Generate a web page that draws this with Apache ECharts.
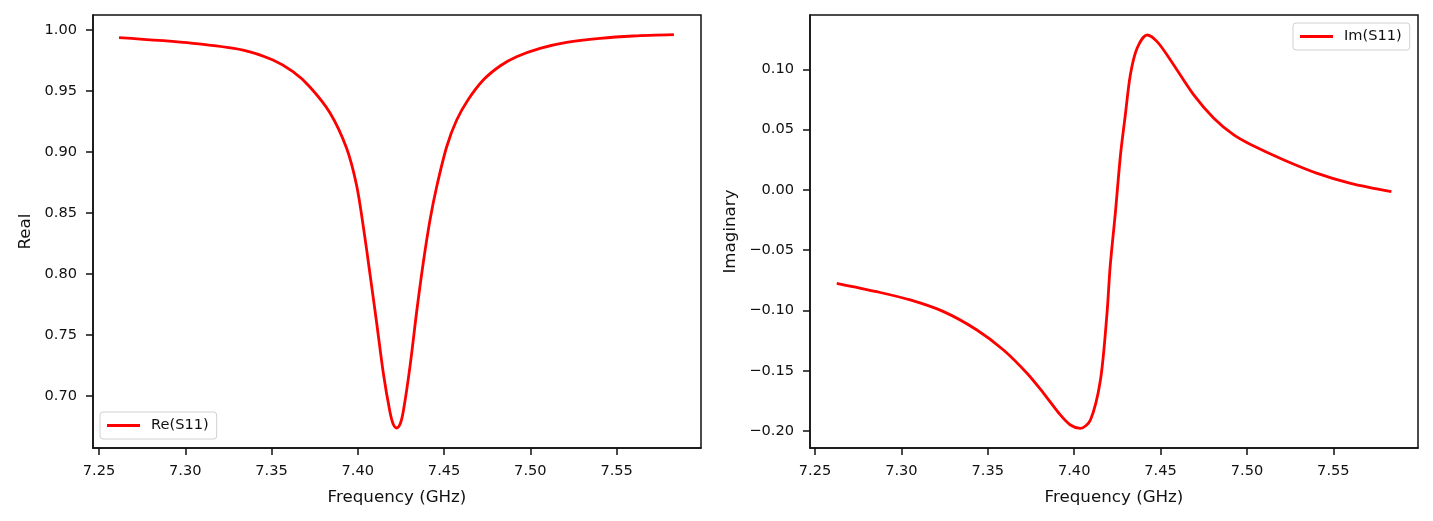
<!DOCTYPE html>
<html>
<head>
<meta charset="utf-8">
<title>S11 real / imaginary</title>
<script src="https://cdn.jsdelivr.net/npm/echarts@6/dist/echarts.min.js"></script>
<style>
  html, body { margin: 0; padding: 0; background: #fff; }
  #main { width: 1433px; height: 521px; }
</style>
</head>
<body>
<div id="main"></div>
<script>
// values (frequency in GHz)
var reFreq = [7.2616, 7.3045, 7.3335, 7.3508, 7.3624, 7.3721, 7.3839, 7.3935, 7.3993, 7.4032,
  7.4070, 7.4109, 7.4148, 7.4186, 7.4206, 7.4225, 7.4244, 7.4263, 7.4302, 7.4341,
  7.4379, 7.4418, 7.4457, 7.4515, 7.4573, 7.4640, 7.4727, 7.4824, 7.4920, 7.5056,
  7.5210, 7.5403, 7.5596, 7.5832];
var reVals = [0.9937, 0.9891, 0.9836, 0.9754, 0.9658, 0.9535, 0.9320, 0.9030, 0.8725, 0.8386,
  0.8004, 0.7600, 0.7184, 0.6870, 0.6765, 0.6737, 0.6765, 0.6870, 0.7238, 0.7690,
  0.8090, 0.8441, 0.8715, 0.9043, 0.9262, 0.9430, 0.9590, 0.9705, 0.9781, 0.9850,
  0.9899, 0.9932, 0.9951, 0.9962];

var imFreq = [7.2626, 7.2858, 7.3051, 7.3244, 7.3437, 7.3591, 7.3727, 7.3823, 7.3920, 7.3978,
  7.4036, 7.4094, 7.4152, 7.4190, 7.4208, 7.4239, 7.4268, 7.4296, 7.4325, 7.4364,
  7.4422, 7.4480, 7.4557, 7.4692, 7.4808, 7.4924, 7.5021, 7.5214, 7.5407, 7.5600,
  7.5836];
var imVals = [-0.0775, -0.0845, -0.0913, -0.1010, -0.1162, -0.1328, -0.1521, -0.1687, -0.1867, -0.1950,
  -0.1978, -0.1909, -0.1577, -0.1024, -0.0640, -0.0180, 0.0289, 0.0621, 0.0953, 0.1174,
  0.1284, 0.1229, 0.1077, 0.0787, 0.0594, 0.0455, 0.0376, 0.0248, 0.0137, 0.0054,
  -0.0015];

// tick labels
var freqTicks = [7.25, 7.30, 7.35, 7.40, 7.45, 7.50, 7.55];
var reTicks = [0.70, 0.75, 0.80, 0.85, 0.90, 0.95, 1.00];
var imTicks = [-0.20, -0.15, -0.10, -0.05, 0.00, 0.05, 0.10];

var FONT = 'DejaVu Sans';
var INK = '#111';

function pairs(xs, ys) {
  return xs.map(function (x, i) { return [x, ys[i]]; });
}

// matplotlib style numbers, with a real minus sign
function fmt2(v) {
  var s = Math.abs(v).toFixed(2);
  return (v < -1e-9 ? '\u2212' : '') + s;
}

function xAxisFor(gridIndex, min, max) {
  return {
    type: 'value',
    gridIndex: gridIndex,
    position: 'bottom',
    min: min,
    max: max,
    name: 'Frequency (GHz)',
    nameLocation: 'middle',
    nameGap: 41,
    nameTextStyle: { fontFamily: FONT, fontSize: 16.7, color: INK },
    axisLine: { show: true, onZero: false, lineStyle: { color: INK, width: 1.5 } },
    axisTick: {
      show: true, inside: false, length: 7,
      lineStyle: { color: INK, width: 1.5 },
      customValues: freqTicks
    },
    axisLabel: {
      show: true, margin: 16,
      fontFamily: FONT, fontSize: 14.6, color: INK,
      customValues: freqTicks,
      formatter: fmt2
    },
    splitLine: { show: false }
  };
}

function yAxisFor(gridIndex, min, max, name, ticks, gap) {
  return {
    type: 'value',
    gridIndex: gridIndex,
    position: 'left',
    min: min,
    max: max,
    name: name,
    nameLocation: 'middle',
    nameRotate: 90,
    nameGap: gap,
    nameTextStyle: { fontFamily: FONT, fontSize: 16.7, color: INK },
    axisLine: { show: true, onZero: false, lineStyle: { color: INK, width: 1.5 } },
    axisTick: {
      show: true, inside: false, length: 7,
      lineStyle: { color: INK, width: 1.5 },
      customValues: ticks
    },
    axisLabel: {
      show: true, margin: 16,
      fontFamily: FONT, fontSize: 14.6, color: INK,
      customValues: ticks,
      formatter: fmt2
    },
    splitLine: { show: false }
  };
}

// legend box like matplotlib: short line, no marker
function legendFor(name, left, top) {
  return {
    data: [name],
    left: left,
    top: top,
    orient: 'vertical',
    icon: 'rect',
    itemWidth: 33,
    itemHeight: 3,
    itemGap: 0,
    padding: [6, 8, 6, 7],
    backgroundColor: 'rgba(255,255,255,0.8)',
    borderColor: '#d0d0d0',
    borderWidth: 1,
    borderRadius: 3,
    selectedMode: false,
    itemStyle: { color: '#ff0000' },
    textStyle: { fontFamily: FONT, fontSize: 14.6, color: INK, padding: [0, 0, 0, 6] }
  };
}

function lineSeries(name, idx, data) {
  return {
    name: name,
    type: 'line',
    xAxisIndex: idx,
    yAxisIndex: idx,
    data: data,
    symbol: 'none',
    smooth: 0.3,
    silent: true,
    animation: false,
    itemStyle: { color: '#ff0000' },
    lineStyle: { color: '#ff0000', width: 2.8 }
  };
}

var chart = echarts.init(document.getElementById('main'), null, { renderer: 'canvas' });

var option = {
  backgroundColor: '#ffffff',
  animation: false,
  grid: [
    { left: 93, top: 15, width: 608, height: 433, show: true, borderColor: INK, borderWidth: 1.5, backgroundColor: 'transparent' },
    { left: 810, top: 15, width: 608, height: 433, show: true, borderColor: INK, borderWidth: 1.5, backgroundColor: 'transparent' }
  ],
  xAxis: [
    xAxisFor(0, 7.2465, 7.5989),
    xAxisFor(1, 7.2471, 7.5990)
  ],
  yAxis: [
    yAxisFor(0, 0.6573, 1.0123, 'Real', reTicks, 59),
    yAxisFor(1, -0.2141, 0.1450, 'Imaginary', imTicks, 71)
  ],
  legend: [
    legendFor('Re(S11)', 100, 412),
    legendFor('Im(S11)', 1293, 23)
  ],
  series: [
    lineSeries('Re(S11)', 0, pairs(reFreq, reVals)),
    lineSeries('Im(S11)', 1, pairs(imFreq, imVals))
  ]
};

chart.setOption(option);
</script>
</body>
</html>
